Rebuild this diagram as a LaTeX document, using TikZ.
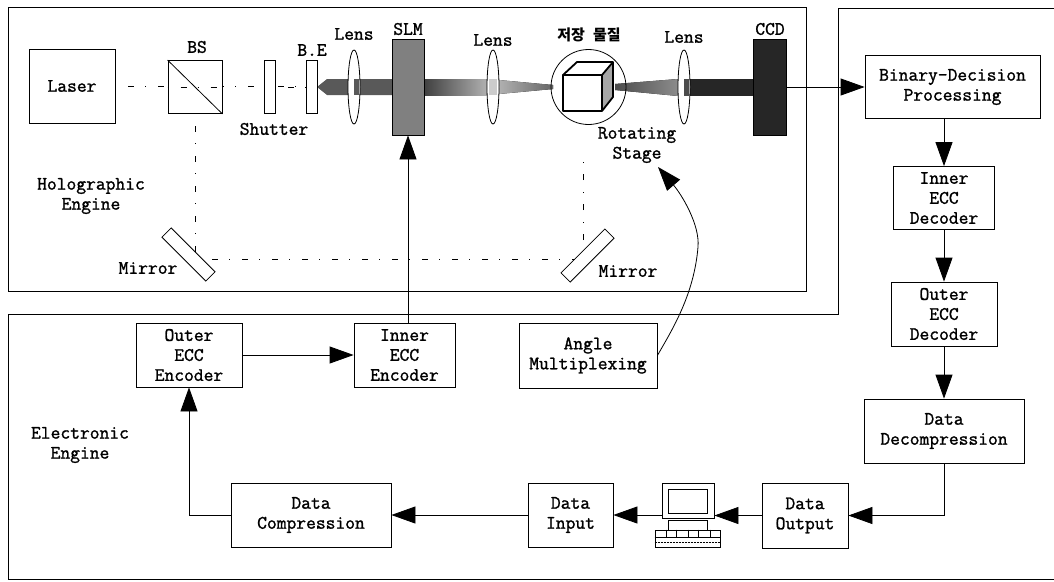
\documentclass[tikz,border=0pt]{standalone}
\usepackage{fontspec}
\newfontfamily\krfont{Noto Sans CJK KR}
\newfontfamily\blockfont[FakeBold=1.3]{Latin Modern Mono}
\usetikzlibrary{arrows.meta,shapes.geometric}
\begin{document}
\begin{tikzpicture}[x=1pt, y=-1pt, line width=0.8pt, >={Triangle[length=24pt,width=17pt]},
    every node/.style={font=\fontsize{19}{20}\selectfont\blockfont, align=center, inner sep=0pt},
    optic/.style={draw, fill=white, minimum width=11pt, minimum height=53pt},
    lens/.style={draw, fill=white, ellipse, minimum width=12pt, minimum height=74pt},
    mirror/.style={draw, fill=white, minimum width=62pt, minimum height=13pt},
    ray/.style={line width=0.5pt, dash pattern=on 1pt off 12pt on 6pt off 11pt}]
  \useasboundingbox (0,0) rectangle (1054,581);
  % Frames
  \draw (8,7) rectangle (806,291);
  \draw (1054,8) -- (838,8) -- (838,314) -- (8,314) -- (8,579) -- (1054,579);
  % Rays
  \coordinate (mirrorl) at (195,259);
  \coordinate (mirrorr) at (583,259);
  \coordinate (stagel) at (583,150);
  \draw[ray] (115,86) -- (306,86);
  \draw[ray] (195,113) -- (mirrorl) -- (mirrorr) -- (stagel);
  % Beam
  \fill[black!65] (317,87) -- (327,79) -- (392,79) -- (392,95) -- (327,95) -- cycle;
  \fill[left color=black!75, right color=black!30] (424,79) rectangle (488,95);
  \fill[left color=black!25, right color=black!60] (488,79) -- (553,85) -- (553,89) -- (488,95) -- cycle;
  \fill[left color=black!70, right color=black!45] (615,84) -- (678,79) -- (678,96) -- (615,90) -- cycle;
  \fill[black!85] (678,79) rectangle (753,96);
  % Optics
  \node[draw, minimum width=86pt, minimum height=74pt] (laser) at (72,86) {Laser};
  \node[draw, minimum width=54pt, minimum height=53pt, fill=white] (bs) at (195,87) {};
  \draw (bs.north west) -- (bs.south east);
  \draw[ray] (bs.west) -- (bs.east);
  \node[optic] (shutter) at (269.5,87) {};
  \draw[ray] (shutter.east) -- (306,87);
  \node[optic] (be) at (311.5,87) {};
  \node[lens] (lensa) at (354,87) {};
  \fill[black!65] (354,79) rectangle (359,95);
  \node[draw, fill=black!50, minimum width=32pt, minimum height=96pt] (slm) at (408,87) {};
  \node[lens] (lensb) at (493,87) {};
  \fill[black!20] (489,79) rectangle (497,95);
  \node[draw, circle, minimum size=75pt] (stage) at (588.5,87) {};
  \node[lens] (lensc) at (684,87) {};
  \fill[black!70] (684,79) rectangle (689,96);
  \node[draw, fill=black!85, minimum width=33pt, minimum height=96pt] (ccd) at (769.5,87) {};
  \node[mirror, rotate=-45] (mirrora) at (188.5,254.5) {};
  \node[mirror, rotate=45] (mirrorb) at (587.5,255.5) {};
  % Cube
  \fill[black!35] (602,75) -- (613,62) -- (613,97) -- (602,111) -- cycle;
  \draw[line width=1.8pt, line join=round] (563,75) rectangle (602,111);
  \draw[line width=1.8pt, line join=round] (563,75) -- (577,62) -- (613,62) -- (613,97) -- (602,111);
  \draw[line width=1.8pt] (602,75) -- (613,62);
  % Labels
  \node (bslabel) at (197,47) {BS};
  \node (shutterlabel) at (274,129) {Shutter};
  \node (belabel) at (312,50) {B.E};
  \node (lensalabel) at (354,34) {Lens};
  \node (slmlabel) at (408,29) {SLM};
  \node (lensblabel) at (493,40) {Lens};
  \node[font=\krfont\bfseries\fontsize{15}{18}\selectfont] (medium) at (589,35) {저장\hspace{8pt}물질};
  \node (lensclabel) at (684,37) {Lens};
  \node (ccdlabel) at (770,29) {CCD};
  \node (stagelabel) at (637,145) {Rotating\\Stage};
  \node (holo) at (91,196) {Holographic\\Engine};
  \node (mirroralabel) at (148,268) {Mirror};
  \node (mirrorblabel) at (628,271) {Mirror};
  \node (elec) at (80,445) {Electronic\\Engine};
  % Blocks
  \node[draw, minimum width=175pt, minimum height=63pt] (binary) at (952.5,87) {Binary-Decision\\Processing};
  \node[draw, minimum width=101pt, minimum height=63pt] (innerdec) at (944,198) {Inner\\ECC\\Decoder};
  \node[draw, minimum width=106pt, minimum height=64pt] (outerdec) at (944,314) {Outer\\ECC\\Decoder};
  \node[draw, minimum width=160pt, minimum height=64pt] (decomp) at (944,431) {Data\\Decompression};
  \node[draw, minimum width=86pt, minimum height=65pt] (dataout) at (805,515.5) {Data\\Output};
  \node[draw, minimum width=85pt, minimum height=64pt] (datain) at (570.5,515) {Data\\Input};
  \node[draw, minimum width=160pt, minimum height=64pt] (comp) at (311,515) {Data\\Compression};
  \node[draw, minimum width=106pt, minimum height=64pt] (outerenc) at (189,355) {Outer\\ECC\\Encoder};
  \node[draw, minimum width=101pt, minimum height=64pt] (innerenc) at (404.5,355) {Inner\\ECC\\Encoder};
  \node[draw, minimum width=138pt, minimum height=65pt] (angle) at (588,355.5) {Angle\\Multiplexing};
  % Computer
  \node[draw, minimum width=52pt, minimum height=35pt] (monitor) at (688,500.5) {};
  \node[draw, minimum width=39pt, minimum height=24pt] (screen) at (688,501) {};
  \node[draw, minimum width=39pt, minimum height=10pt] (pcbase) at (688,525) {};
  \node[draw, minimum width=65pt, minimum height=17pt] (keyboard) at (687.5,538.5) {};
  \draw[line width=0.5pt] ([yshift=1pt]keyboard.west) -- ([yshift=1pt]keyboard.east);
  \draw[line width=0.5pt, densely dotted] ([yshift=-4pt]keyboard.west) -- ([yshift=-4pt]keyboard.east);
  \foreach \k in {12,22,34,44,56}
    \draw[line width=0.5pt] ([xshift=\k pt]keyboard.north west) -- ([xshift=\k pt, yshift=-7pt]keyboard.north west);
  % Connectors
  \coordinate (stagetip) at (658,167);
  \draw[->] (ccd.east) -- (binary.west);
  \draw[->] (binary.south -| innerdec.north) -- (innerdec.north);
  \draw[->] (innerdec.south) -- (outerdec.north);
  \draw[->] (outerdec.south) -- (decomp.north);
  \draw[->] (decomp.south) |- (dataout.east);
  \draw[->] (dataout.west) -- (dataout.west -| monitor.east);
  \draw[->] (monitor.west |- datain.east) -- (datain.east);
  \draw[->] (datain.west) -- (comp.east);
  \draw[->] (comp.west) -| (outerenc.south);
  \draw[->] (outerenc.east) -- (innerenc.west);
  \draw[->] (innerenc.north -| slm.south) -- (slm.south);
  \draw[->] (angle.east) .. controls (672,330) and (694,295) .. (698,247) .. controls (700,225) and (682,195) .. (stagetip);
\end{tikzpicture}
\end{document}
